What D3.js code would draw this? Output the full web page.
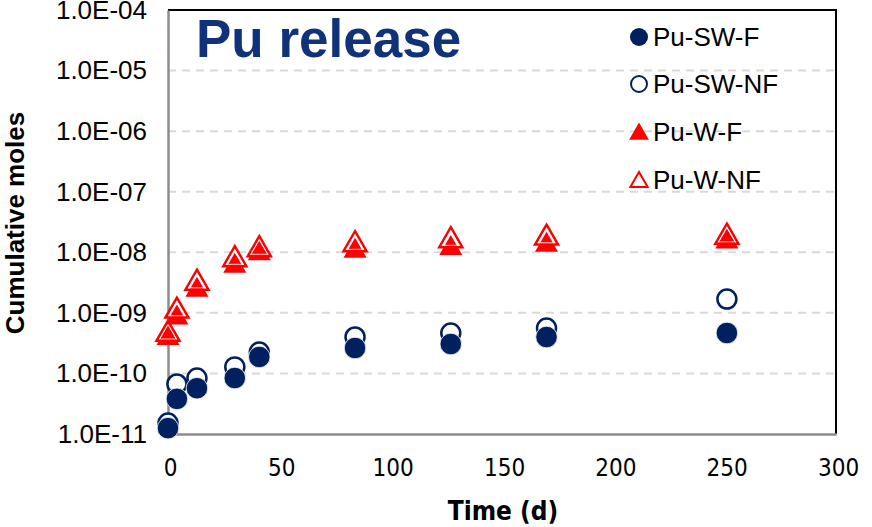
<!DOCTYPE html>
<html>
<head>
<meta charset="utf-8">
<script src="https://cdn.jsdelivr.net/npm/d3@7"></script>
<style>
  body { margin: 0; background: #fff; }
  svg { display: block; }
  .num { font-family: "Liberation Sans Narrow", "DejaVu Sans Condensed", "Liberation Sans", Arial, sans-serif; }
  .arial { font-family: "Liberation Sans", Arial, sans-serif; }
</style>
</head>
<body>
<script>
// sampling times (d)
var times = [0, 4, 13, 30, 41, 84, 127, 170, 251]

// cumulative moles per series
var swF  = [1.25e-11, 3.8e-11, 5.7e-11, 8.4e-11, 1.87e-10, 2.63e-10, 3.06e-10, 3.99e-10, 4.65e-10]
var swNF = [1.52e-11, 6.7e-11, 8.4e-11, 1.28e-10, 2.26e-10, 4.0e-10, 4.65e-10, 5.6e-10, 1.69e-9]
var wF   = [4.1e-10, 8.9e-10, 2.57e-9, 6.4e-9, 1.03e-8, 1.13e-8, 1.25e-8, 1.42e-8, 1.6e-8]
var wNF  = [4.8e-10, 1.16e-9, 3.36e-9, 8.2e-9, 1.2e-8, 1.45e-8, 1.69e-8, 1.86e-8, 1.93e-8]

var seriesNames = ['Pu-SW-F', 'Pu-SW-NF', 'Pu-W-F', 'Pu-W-NF']
var xTicks = [0, 50, 100, 150, 200, 250, 300]
var yTicks = [1e-11, 1e-10, 1e-9, 1e-8, 1e-7, 1e-6, 1e-5, 1e-4]

var W = 872, H = 527
var m = { left: 168, right: 836, top: 10, bottom: 434 }
var navy = '#002060', red = '#ff0000'

var svg = d3.select('body').append('svg').attr('width', W).attr('height', H)

var x = d3.scaleLinear().domain([0, 300]).range([m.left, m.right])
var y = d3.scaleLog().domain([1e-11, 1e-4]).range([m.bottom, m.top])

// gridlines
svg.append('g').selectAll('line')
  .data(yTicks.slice(1, -1))
  .enter().append('line')
    .attr('x1', m.left).attr('x2', m.right)
    .attr('y1', function(d){ return y(d) }).attr('y2', function(d){ return y(d) })
    .attr('stroke', '#d9d9d9').attr('stroke-width', 2).attr('stroke-dasharray', '8,6')

// plot border: top/right black, left/bottom grey axes
svg.append('line').attr('x1', m.left).attr('x2', m.right).attr('y1', m.top).attr('y2', m.top)
  .attr('stroke', '#000').attr('stroke-width', 2)
svg.append('line').attr('x1', m.right).attr('x2', m.right).attr('y1', m.top - 1).attr('y2', m.bottom)
  .attr('stroke', '#000').attr('stroke-width', 2)

// y axis
var yAxis = d3.axisLeft(y).tickValues(yTicks).tickSize(0).tickPadding(21)
  .tickFormat(function(d){ return '1.0E-' + d3.format('02d')(-Math.round(Math.log10(d))) })
var gy = svg.append('g').attr('transform', 'translate(' + m.left + ',0)').call(yAxis)
gy.select('.domain').attr('stroke', '#8c8c8c').attr('stroke-width', 2.5)
gy.selectAll('text').attr('class', 'arial').attr('font-size', 26).attr('fill', '#000')

// x axis
var xAxis = d3.axisBottom(x).tickValues(xTicks).tickSize(0).tickPadding(28)
var gx = svg.append('g').attr('transform', 'translate(0,' + m.bottom + ')').call(xAxis)
gx.select('.domain').attr('stroke', '#8c8c8c').attr('stroke-width', 2.5)
gx.selectAll('text').attr('class', 'num').attr('font-size', 24).attr('fill', '#000')
  .attr('dx', 2).attr('dy', '0.3em').attr('dominant-baseline', 'middle')

// axis titles
svg.append('text').attr('class', 'num')
  .attr('x', 503).attr('y', 512).attr('text-anchor', 'middle').attr('dominant-baseline', 'middle')
  .attr('font-size', 26).attr('font-weight', 'bold').text('Time (d)')
svg.append('text').attr('class', 'arial')
  .attr('transform', 'translate(17,223) rotate(-90)').attr('text-anchor', 'middle').attr('dominant-baseline', 'middle')
  .attr('font-size', 26).attr('font-weight', 'bold').text('Cumulative moles')

// title
svg.append('text').attr('class', 'arial')
  .attr('x', 196).attr('y', 57).attr('font-size', 53).attr('font-weight', 'bold')
  .attr('fill', '#10327a').text('Pu release')

// markers
var tri = function(s){ return d3.symbol().type(d3.symbolTriangle).size(s)() }
function pts(vals){ return vals.map(function(v, i){ return [x(times[i]), y(v)] }) }

var plot = svg.append('g')
plot.selectAll('.swnf').data(pts(swNF)).enter().append('circle')
  .attr('cx', function(d){ return d[0] }).attr('cy', function(d){ return d[1] })
  .attr('r', 9.5).attr('fill', '#fff').attr('stroke', navy).attr('stroke-width', 2.5)
plot.selectAll('.swf').data(pts(swF)).enter().append('circle')
  .attr('cx', function(d){ return d[0] }).attr('cy', function(d){ return d[1] })
  .attr('r', 10.8).attr('fill', navy).attr('stroke', '#fff').attr('stroke-width', 0.8)
plot.selectAll('.wf').data(pts(wF)).enter().append('path')
  .attr('transform', function(d){ return 'translate(' + d[0] + ',' + (d[1] + 2) + ')' })
  .attr('d', tri(230)).attr('fill', red)
plot.selectAll('.wnf').data(pts(wNF)).enter().append('path')
  .attr('transform', function(d){ return 'translate(' + d[0] + ',' + (d[1] + 2) + ')' })
  .attr('d', tri(230)).attr('fill', 'none').attr('stroke', red).attr('stroke-width', 2.5)
plot.selectAll('.wnfi').data(pts(wNF)).enter().append('path')
  .attr('transform', function(d){ return 'translate(' + d[0] + ',' + (d[1] + 2) + ')' })
  .attr('d', tri(120)).attr('fill', 'none').attr('stroke', '#fff').attr('stroke-width', 0.8)

// legend
var lx = 639, ly = [37, 84, 132, 180]
var leg = svg.append('g')
leg.append('circle').attr('cx', lx).attr('cy', ly[0]).attr('r', 9).attr('fill', navy)
leg.append('circle').attr('cx', lx).attr('cy', ly[1]).attr('r', 8).attr('fill', '#fff').attr('stroke', navy).attr('stroke-width', 2)
leg.append('path').attr('transform', 'translate(' + lx + ',' + (ly[2] + 2) + ')').attr('d', tri(170)).attr('fill', red)
leg.append('path').attr('transform', 'translate(' + lx + ',' + (ly[3] + 2) + ')').attr('d', tri(130))
  .attr('fill', '#fff').attr('stroke', red).attr('stroke-width', 2)
leg.selectAll('text').data(seriesNames).enter().append('text').attr('class', 'arial')
  .attr('x', lx + 14).attr('y', function(d, i){ return ly[i] }).attr('dy', '0.36em')
  .attr('font-size', 26).attr('fill', '#000').text(function(d){ return d })
</script>
</body>
</html>
